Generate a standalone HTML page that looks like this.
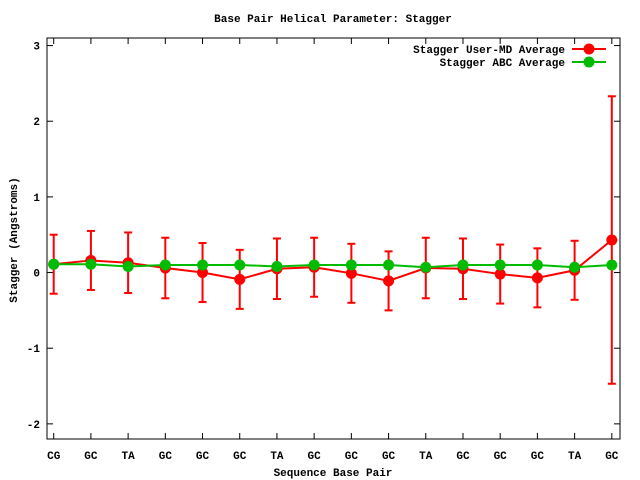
<!DOCTYPE html>
<html><head><meta charset="utf-8"><style>
body{margin:0;background:#fff;}
svg{display:block;font-family:"Liberation Mono",monospace;font-weight:bold;font-size:11px;}
</style></head><body>
<svg id="chart" width="640" height="480">
<text x="333" y="22" text-anchor="middle">Base Pair Helical Parameter: Stagger</text>
<text x="333" y="476" text-anchor="middle">Sequence Base Pair</text>
<text transform="translate(17,240) rotate(-90)" text-anchor="middle">Stagger (Angstroms)</text>
<g id="axes"></g><g id="marks"></g>
<g>
<text x="565" y="53" text-anchor="end">Stagger User-MD Average</text>
<line x1="572" y1="49" x2="606" y2="49" stroke="#f00" stroke-width="2"/><circle cx="589" cy="49" r="5.5" fill="#f00"/>
<text x="565" y="66" text-anchor="end">Stagger ABC Average</text>
<line x1="572" y1="62" x2="606" y2="62" stroke="#0b0" stroke-width="2"/><circle cx="589" cy="62" r="5.5" fill="#0b0"/>
</g>
</svg>
<script>
const categories=["CG","GC","TA","GC","GC","GC","TA","GC","GC","GC","TA","GC","GC","GC","TA","GC"];
const userMD=[0.11,0.16,0.13,0.06,0.0,-0.09,0.05,0.07,-0.01,-0.11,0.06,0.05,-0.02,-0.07,0.03,0.43];
const userErr=[0.39,0.39,0.40,0.40,0.39,0.39,0.40,0.39,0.39,0.39,0.40,0.40,0.39,0.39,0.39,1.9];
const abc=[0.11,0.11,0.08,0.10,0.10,0.10,0.08,0.10,0.10,0.10,0.07,0.10,0.10,0.10,0.07,0.10];
const yTicks=[-2,-1,0,1,2,3];
const NS="http://www.w3.org/2000/svg";
const L=47,R=620,T=38,B=439,XMIN=-0.18,XMAX=15.22,YMIN=-2.2,YMAX=3.1;
const xs=i=>L+(i-XMIN)/(XMAX-XMIN)*(R-L);
const ys=v=>B-(v-YMIN)/(YMAX-YMIN)*(B-T);
function mk(tag,attrs,parent){const e=document.createElementNS(NS,tag);for(const k in attrs)e.setAttribute(k,attrs[k]);parent.appendChild(e);return e;}
const ax=document.getElementById('axes'),mg=document.getElementById('marks');
const fr=mk('rect',{x:L,y:T,width:R-L,height:B-T,fill:'none',stroke:'#000','stroke-width':1},ax);


yTicks.forEach(v=>{const y=ys(v);
mk('line',{x1:L,y1:y,x2:L+6,y2:y,stroke:'#000'},ax);mk('line',{x1:R,y1:y,x2:R-6,y2:y,stroke:'#000'},ax);
const t=mk('text',{x:L-7,y:y+4,'text-anchor':'end'},ax);t.textContent=v;

});
categories.forEach((c,i)=>{const x=xs(i);
mk('line',{x1:x,y1:B,x2:x,y2:B-6,stroke:'#000'},ax);mk('line',{x1:x,y1:T,x2:x,y2:T+6,stroke:'#000'},ax);
const t=mk('text',{x:x,y:B+20,'text-anchor':'middle'},ax);t.textContent=c;

});
function series(vals,col,err,name){
const pl=mk('polyline',{points:vals.map((v,i)=>xs(i)+','+ys(v)).join(' '),fill:'none',stroke:col,'stroke-width':2},mg);


vals.forEach((v,i)=>{const x=xs(i);
if(err){const e=err[i];mk('line',{x1:x,y1:ys(v+e),x2:x,y2:ys(v-e),stroke:col,'stroke-width':2},mg);
mk('line',{x1:x-4,y1:ys(v+e),x2:x+4,y2:ys(v+e),stroke:col,'stroke-width':2},mg);
mk('line',{x1:x-4,y1:ys(v-e),x2:x+4,y2:ys(v-e),stroke:col,'stroke-width':2},mg);}
const p=mk('circle',{cx:x,cy:ys(v),r:5.5,fill:col},mg);

});}
series(userMD,'#f00',userErr,'usermd');
series(abc,'#0b0',null,'abc');
</script>
</body></html>
